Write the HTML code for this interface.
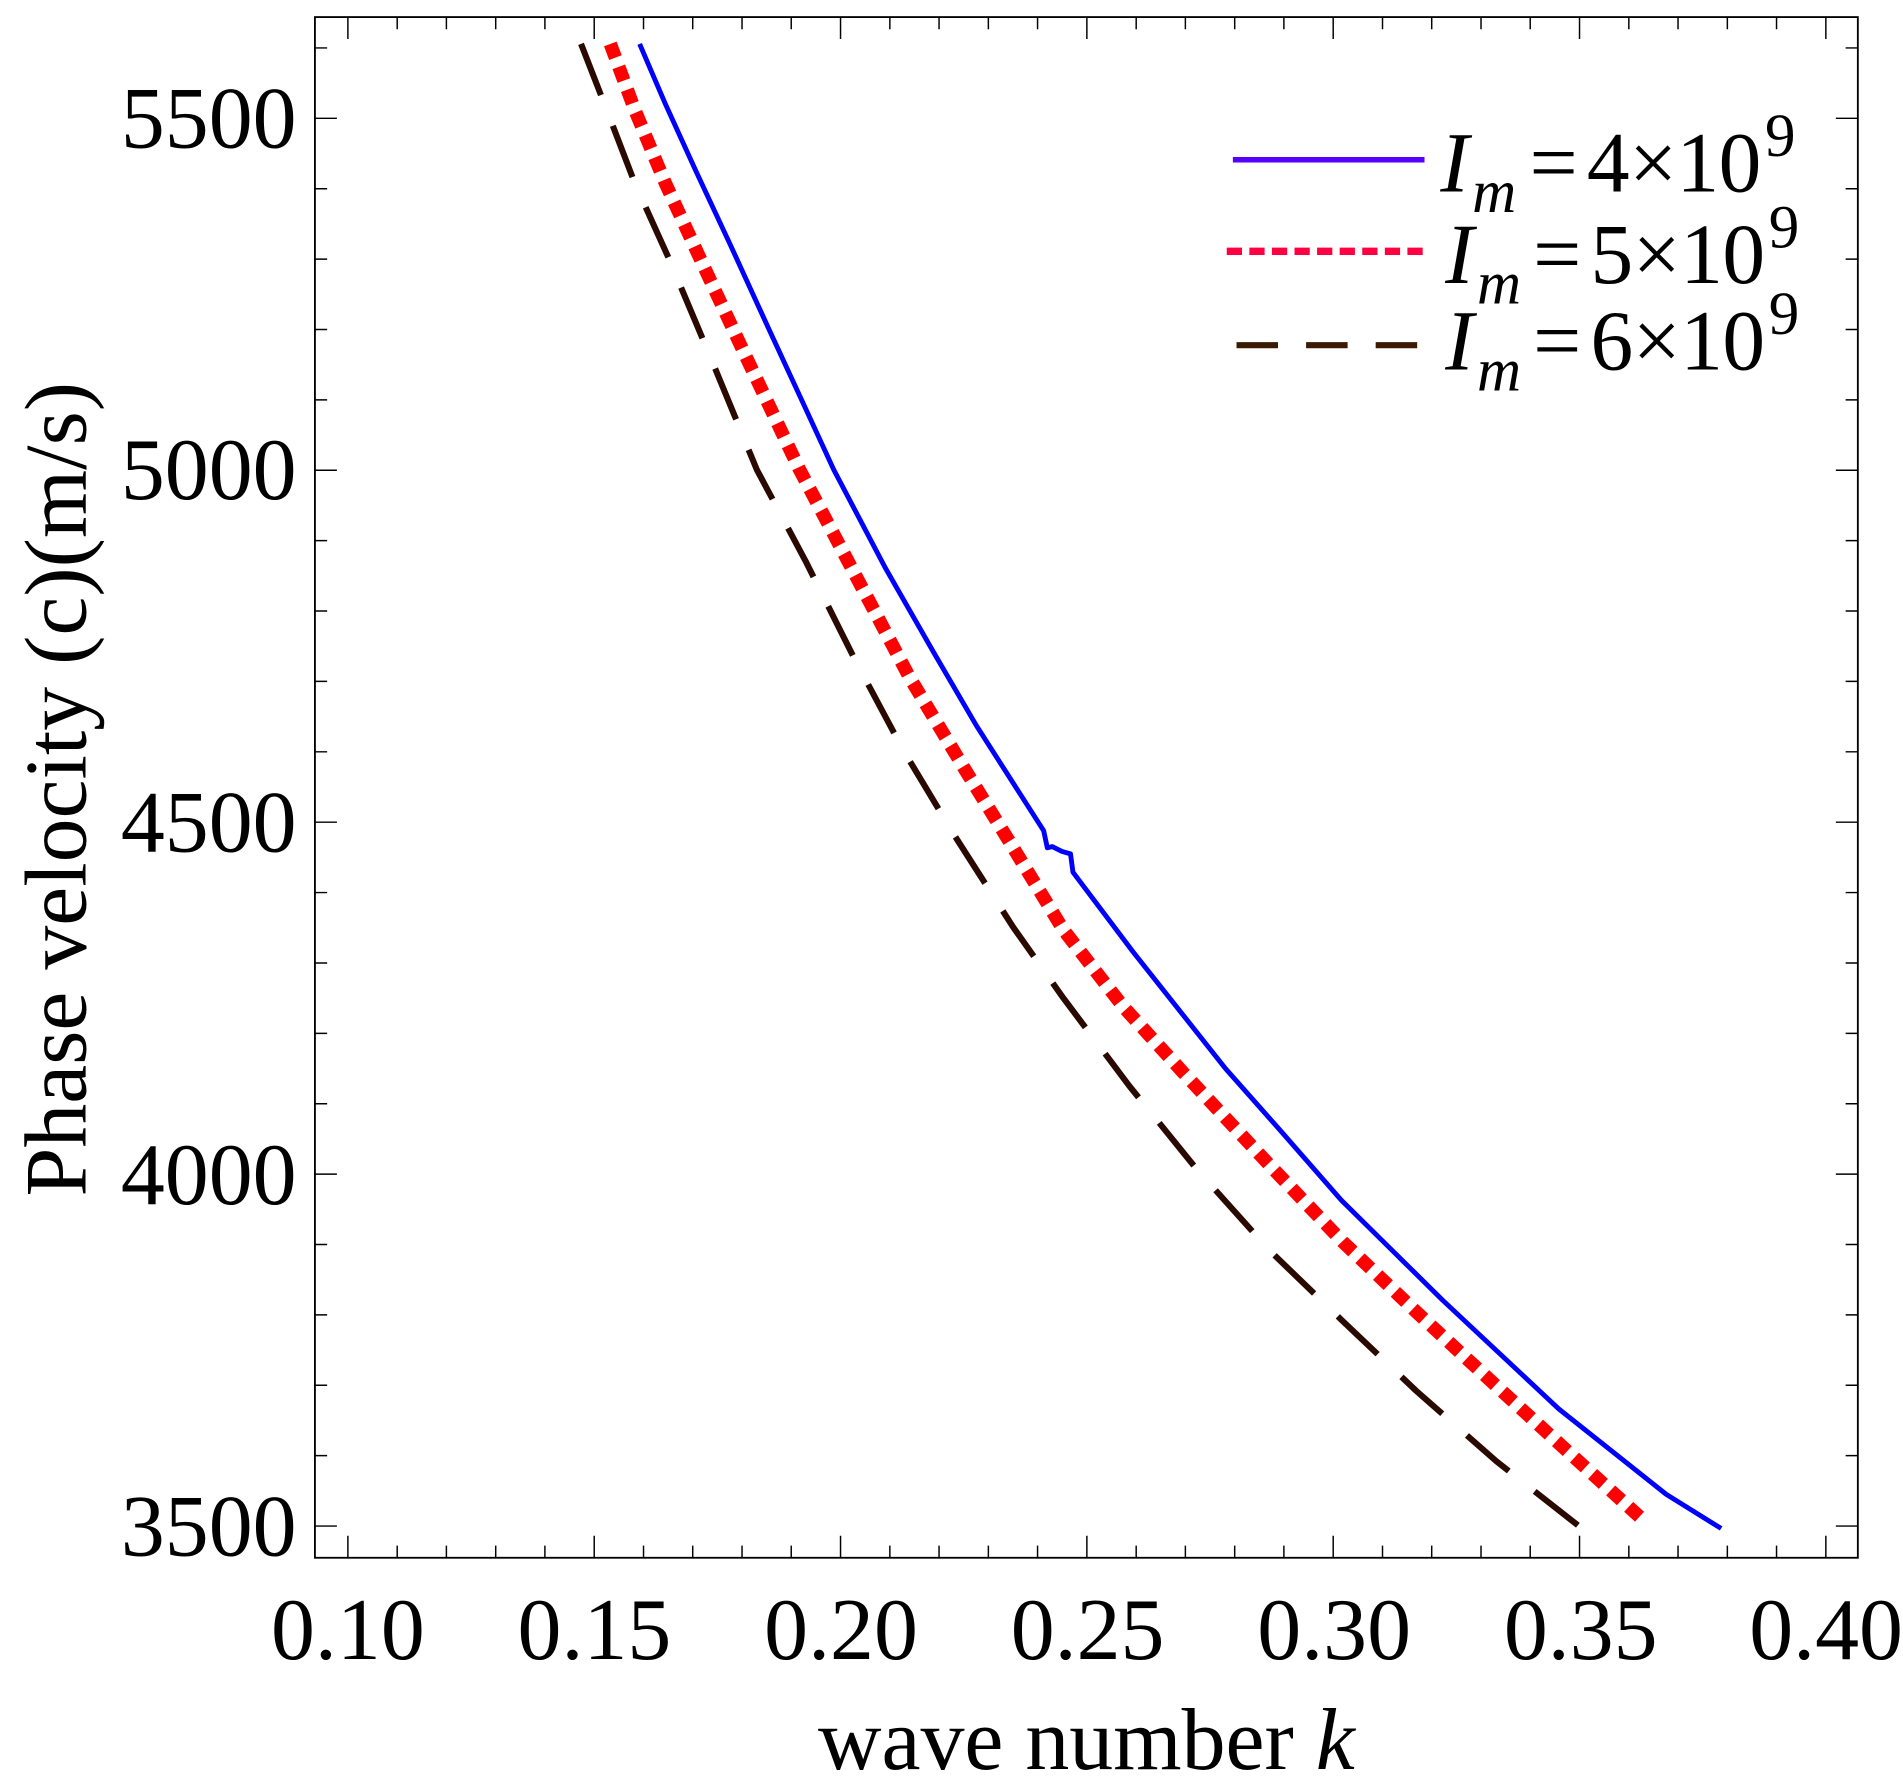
<!DOCTYPE html>
<html><head><style>html,body{margin:0;padding:0;background:#fff;}svg{display:block}</style></head>
<body>
<svg width="1903" height="1781" viewBox="0 0 1559 1460" preserveAspectRatio="none" xmlns="http://www.w3.org/2000/svg">
<rect x="0" y="0" width="1559" height="1460" fill="#fff"/>
<rect x="258" y="14" width="1264" height="1263" fill="none" stroke="#000" stroke-width="1.5"/>
<g stroke="#000" stroke-width="1.2" fill="none">
<path d="M285,1277v-18M325.4,1277v-10M365.7,1277v-10M406.1,1277v-10M446.4,1277v-10M486.8,1277v-18M527.2,1277v-10M567.5,1277v-10M607.9,1277v-10M648.2,1277v-10M688.6,1277v-18M729,1277v-10M769.3,1277v-10M809.7,1277v-10M850,1277v-10M890.4,1277v-18M930.8,1277v-10M971.1,1277v-10M1011.5,1277v-10M1051.8,1277v-10M1092.2,1277v-18M1132.6,1277v-10M1172.9,1277v-10M1213.3,1277v-10M1253.6,1277v-10M1294,1277v-18M1334.4,1277v-10M1374.7,1277v-10M1415.1,1277v-10M1455.4,1277v-10M1495.8,1277v-18"/>
<path d="M285,14v18M325.4,14v10M365.7,14v10M406.1,14v10M446.4,14v10M486.8,14v18M527.2,14v10M567.5,14v10M607.9,14v10M648.2,14v10M688.6,14v18M729,14v10M769.3,14v10M809.7,14v10M850,14v10M890.4,14v18M930.8,14v10M971.1,14v10M1011.5,14v10M1051.8,14v10M1092.2,14v18M1132.6,14v10M1172.9,14v10M1213.3,14v10M1253.6,14v10M1294,14v18M1334.4,14v10M1374.7,14v10M1415.1,14v10M1455.4,14v10M1495.8,14v18"/>
<path d="M258,1251h18M258,1193.3h10M258,1135.6h10M258,1077.9h10M258,1020.2h10M258,962.5h18M258,904.8h10M258,847.1h10M258,789.4h10M258,731.7h10M258,674h18M258,616.3h10M258,558.6h10M258,500.9h10M258,443.2h10M258,385.5h18M258,327.8h10M258,270.1h10M258,212.4h10M258,154.7h10M258,97h18M258,39.3h10"/>
<path d="M1522,1251h-18M1522,1193.3h-10M1522,1135.6h-10M1522,1077.9h-10M1522,1020.2h-10M1522,962.5h-18M1522,904.8h-10M1522,847.1h-10M1522,789.4h-10M1522,731.7h-10M1522,674h-18M1522,616.3h-10M1522,558.6h-10M1522,500.9h-10M1522,443.2h-10M1522,385.5h-18M1522,327.8h-10M1522,270.1h-10M1522,212.4h-10M1522,154.7h-10M1522,97h-18M1522,39.3h-10"/>
</g>
<g font-family="Liberation Serif, serif" font-size="72" fill="#000">
<text x="285" y="1360" text-anchor="middle">0.10</text>
<text x="487" y="1360" text-anchor="middle">0.15</text>
<text x="689" y="1360" text-anchor="middle">0.20</text>
<text x="891" y="1360" text-anchor="middle">0.25</text>
<text x="1093" y="1360" text-anchor="middle">0.30</text>
<text x="1295" y="1360" text-anchor="middle">0.35</text>
<text x="1496" y="1360" text-anchor="middle">0.40</text>
<text x="243" y="121" text-anchor="end">5500</text>
<text x="243" y="409" text-anchor="end">5000</text>
<text x="243" y="698" text-anchor="end">4500</text>
<text x="243" y="987" text-anchor="end">4000</text>
<text x="243" y="1275" text-anchor="end">3500</text>
<text x="890" y="1450" text-anchor="middle">wave number <tspan font-style="italic">k</tspan></text>
<text transform="translate(70,647) rotate(-90)" text-anchor="middle">Phase velocity (c)(m/s)</text>
</g>
<g font-family="Liberation Serif, serif" font-size="70" fill="#000">
<text x="1180" y="157" font-style="italic">I</text><text x="1206" y="174" font-size="50" font-style="italic">m</text><text x="1253" y="157">=</text><text x="1300" y="157" textLength="143">4×10</text><text x="1446" y="128" font-size="50">9</text>
<text x="1184" y="232" font-style="italic">I</text><text x="1210" y="249" font-size="50" font-style="italic">m</text><text x="1256" y="232">=</text><text x="1303" y="232" textLength="143">5×10</text><text x="1449" y="203" font-size="50">9</text>
<text x="1184" y="303" font-style="italic">I</text><text x="1210" y="320" font-size="50" font-style="italic">m</text><text x="1256" y="303">=</text><text x="1303" y="303" textLength="143">6×10</text><text x="1449" y="274" font-size="50">9</text>
</g>
<line x1="1010" y1="131" x2="1167" y2="131" stroke="#5500ff" stroke-width="4.5"/>
<line x1="1005" y1="206" x2="1167" y2="206" stroke="#ff0040" stroke-width="6" stroke-dasharray="12.5 6"/>
<line x1="1013" y1="283" x2="1170" y2="283" stroke="#3a1a00" stroke-width="5" stroke-dasharray="34 23"/>
<polyline points="524,36 545,85 570,140 598,200 630,270 660,335 683,385 725,465 765,535 800,595 855,681 858,695 862,694 870,698 877,700 879,715 928,780 1004,876 1050,928 1099,984 1182,1066 1277,1155 1365,1225 1410,1253" fill="none" stroke="#0000ff" stroke-width="4" stroke-linejoin="round"/>
<polyline points="500,36 520,90 545,150 575,215 610,290 655,385 700,470 745,555 790,630 827,690 871,762 920,825 970,880 1040,955 1100,1018 1163,1078 1230,1140 1290,1195 1345,1245" fill="none" stroke="#ff0000" stroke-width="11" stroke-dasharray="12 8" stroke-linejoin="round"/>
<polyline points="476,36 497,90 520,150 548,212 585,300 620,385 660,460 700,540 740,615 782,685 830,760 871,818 925,890 980,958 1040,1025 1099,1082 1160,1140 1226,1198 1296,1253" fill="none" stroke="#2a0a00" stroke-width="5" stroke-dasharray="45 27" stroke-linejoin="round"/>
</svg>
</body></html>
